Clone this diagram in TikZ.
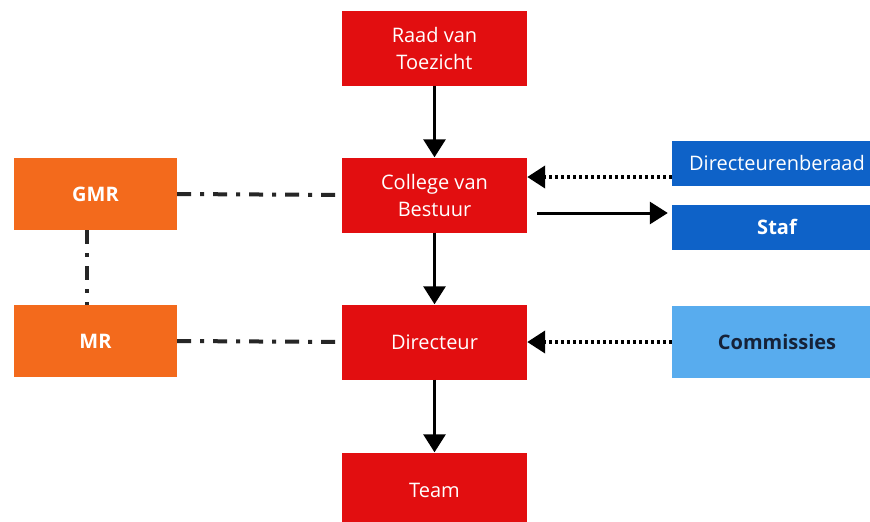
\documentclass[tikz,border=0pt]{standalone}
\usepackage{fontspec}
\setmainfont{Open Sans}
\usetikzlibrary{arrows.meta}

\definecolor{boxred}{RGB}{226,14,16}
\definecolor{boxorange}{RGB}{243,106,28}
\definecolor{boxblue}{RGB}{14,98,200}
\definecolor{boxlight}{RGB}{88,172,238}
\definecolor{darktext}{RGB}{22,34,56}

\tikzset{
  orgbox/.style={rectangle, fill=boxred, text=white, minimum width=185pt, minimum height=75pt, align=center, font=\fontsize{20}{27}\selectfont, inner sep=2pt},
  mrbox/.style={orgbox, fill=boxorange, minimum width=163pt, minimum height=72pt, font=\fontsize{20}{27}\selectfont\bfseries},
  sidebox/.style={orgbox, fill=boxblue, minimum width=210pt, minimum height=45pt},
  mainarrow/.style={-{Triangle[length=18pt, width=22pt]}, line width=3pt, black},
  dotarrow/.style={-{Triangle[length=18pt, width=22pt]}, line width=4pt, black, dash pattern=on 3pt off 3pt},
  dashdot/.style={line width=4pt, black!85, dash pattern=on 14pt off 9pt on 4pt off 9pt}
}

\begin{document}
\begin{tikzpicture}[x=1pt, y=-1pt]
\useasboundingbox (0,0) rectangle (870,522);
\clip (0,0) rectangle (870,522);
\fill[white] (0,0) rectangle (870,522);
% middle column
\node[orgbox] (rvt) at (434.5,48) {Raad van\\Toezicht};
\node[orgbox] (cvb) at (434.5,195) {College van\\Bestuur};
\node[orgbox] (dir) at (434.5,342) {Directeur};
\node[orgbox] (team) at (434.5,490) {Team};
% left column
\node[mrbox] (gmr) at (95.5,194) {GMR};
\node[mrbox] (mr) at (95.5,341) {MR};
% right column
\node[sidebox] (dirb) at (777,163) {Directeurenberaad};
\node[sidebox, font=\fontsize{20}{27}\selectfont\bfseries] (staf) at (777,227) {Staf};
\node[sidebox, fill=boxlight, text=darktext, minimum height=72pt, font=\fontsize{20}{27}\selectfont\bfseries] (com) at (777,342) {Commissies};
% connections
\draw[mainarrow] (rvt) -- (cvb);
\draw[mainarrow] (cvb) -- (dir);
\draw[mainarrow] (dir) -- (team);
\draw[dotarrow] ([yshift=-14pt]dirb.west) -- ([yshift=18pt]cvb.east);
\draw[mainarrow] ([xshift=10pt,yshift=-18pt]cvb.east) -- ([xshift=-4pt,yshift=14pt]staf.west);
\draw[dotarrow] (com.west) -- (dir.east);
\draw[dashdot] (gmr.east) -- (cvb.west);
\draw[dashdot] (mr.east) -- (dir.west);
\draw[dashdot] ([xshift=-9pt]gmr.south) -- ([xshift=-9pt]mr.north);
\end{tikzpicture}
\end{document}
